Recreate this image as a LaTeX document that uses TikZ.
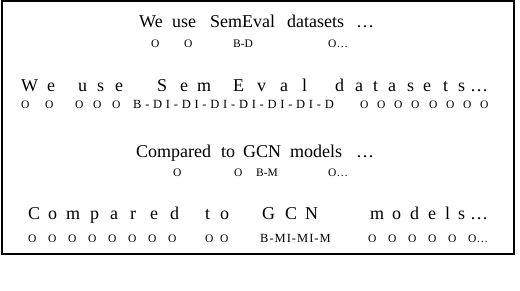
\documentclass[tikz,border=0pt]{standalone}
\usepackage{fontspec}
\setmainfont{Liberation Serif}
\tikzset{
  word/.style={anchor=base west, inner sep=0pt, font=\fontsize{18}{20}\selectfont},
  tag/.style={anchor=base west, inner sep=0pt, font=\fontsize{11.5}{13}\selectfont},
  chain/.style={tag, font=\fontsize{12.5}{14}\selectfont\addfontfeature{LetterSpace=#1}},
}
\begin{document}
\begin{tikzpicture}[x=1pt,y=-1pt]
\useasboundingbox (0,0) rectangle (520,290);

\draw[line width=1.2pt] (2,1) rectangle (514,254);

% word-level sentence 1
\foreach \x/\w [count=\i] in {139/We,172/use,210/SemEval,287/datasets,356/\dots}
  \node[word] (a\i) at (\x,27) {\w};
\foreach \x/\t [count=\i] in {151/O,184/O,233/B-D,328/O\dots}
  \node[tag] (at\i) at (\x,47) {\t};

% character-level sentence 1
\foreach \x/\c [count=\i] in {21/W,47/e,78/u,97/s,115/e,
    157/S,180/e,197/m,233/E,257/v,280/a,302/l,
    335/d,355/a,373/t,388/a,407/s,423/e,443/t,458/s,470/\dots}
  \node[word] (b\i) at (\x,91) {\c};
\foreach \x/\t [count=\i] in {21/O,45/O,75/O,93/O,112/O,
    360/O,377/O,394/O,411/O,429/O,446/O,463/O,480/O}
  \node[tag] (bt\i) at (\x,108) {\t};
\node[chain=30] (bchain) at (133,108) {B-DI-DI-DI-DI-DI-DI-D};

% word-level sentence 2
\foreach \x/\w [count=\i] in {136/Compared,221/to,243/GCN,290/models,356/\dots}
  \node[word] (c\i) at (\x,157) {\w};
\foreach \x/\t [count=\i] in {173/O,234/O,256/B-M,328/O\dots}
  \node[tag] (ct\i) at (\x,176) {\t};

% character-level sentence 2
\foreach \x/\c [count=\i] in {28/C,48/o,66/m,90/p,110/a,130/r,150/e,170/d,
    205/t,220/o,262/G,285/C,305/N,
    370/m,392/o,410/d,428/e,445/l,458/s,470/\dots}
  \node[word] (d\i) at (\x,219) {\c};
\foreach \x/\t [count=\i] in {28/O,48/O,68/O,88/O,108/O,128/O,148/O,168/O,
    205/O,220/O,368/O,388/O,408/O,428/O,448/O,468/O\dots}
  \node[tag] (dt\i) at (\x,242) {\t};
\node[chain=8] (dchain) at (260,242) {B-MI-MI-M};

\end{tikzpicture}
\end{document}
